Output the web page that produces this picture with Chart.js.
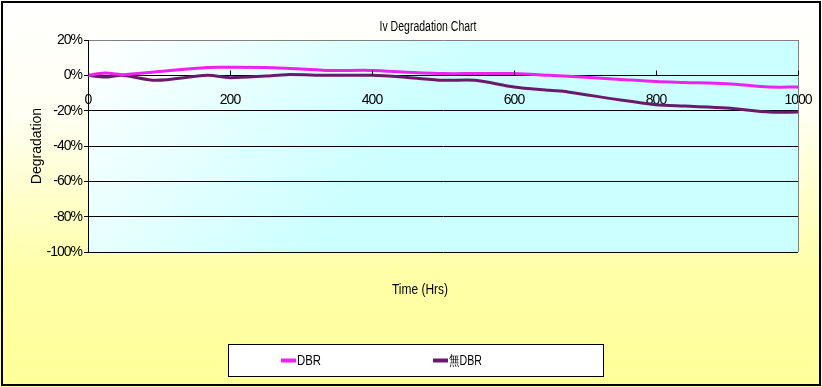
<!DOCTYPE html>
<html>
<head>
<meta charset="utf-8">
<title>Iv Degradation Chart</title>
<script src="https://cdn.jsdelivr.net/npm/chart.js"></script>
<style>
  body { margin: 0; padding: 0; background: #fff; }
  #wrap { width: 822px; height: 387px; }
</style>
</head>
<body>
<div id="wrap"><canvas id="chart" width="822" height="387"></canvas></div>
<script>
// test hours and degradation (%)
var hours = [0, 24, 48, 96, 168, 200, 250, 280, 336, 400, 450, 500, 545, 600, 650, 676, 750, 800, 840, 900, 960, 1000];
var dbr   = [0, 1.3, 0.4, 2, 4.5, 4.6, 4.5, 4, 2.8, 2.8, 1.8, 1, 1, 1, 0, -0.5, -2.3, -3.5, -4, -4.7, -6.6, -6.6];
var noDbr = [0, -1, 0, -2.8, 0, -1.3, -0.4, 0.4, 0, 0, -1.2, -2.8, -2.8, -6.6, -8.5, -9.4, -14, -16.6, -17.4, -18.5, -20.8, -20.8];
var seriesNames = ['DBR', '無DBR'];
var xTicks = [0, 200, 400, 600, 800, 1000];
var yTicks = [20, 0, -20, -40, -60, -80, -100];

var FONT = "'Liberation Sans', Arial, sans-serif";

function pts(ys) {
  return hours.map(function(h, i) { return { x: h, y: ys[i] }; });
}

// squeeze text to a given width (the original uses a condensed face)
function narrowText(ctx, text, x, y, w, align) {
  var m = ctx.measureText(text).width;
  var k = Math.min(1, w / m);
  ctx.save();
  ctx.translate(x, y);
  ctx.scale(k, 1);
  ctx.textAlign = align || 'center';
  ctx.fillText(text, 0, 0);
  ctx.restore();
}

// backgrounds, borders, titles and legend
var decor = {
  id: 'decor',
  beforeDraw: function(chart) {
    var ctx = chart.ctx, a = chart.chartArea;
    ctx.save();
    var g = ctx.createLinearGradient(0, 0, 0, chart.height);
    g.addColorStop(0, '#ffffff');
    g.addColorStop(0.3, '#fffff2');
    g.addColorStop(0.7, '#ffffa8');
    g.addColorStop(1, '#ffff99');
    ctx.fillStyle = g;
    ctx.fillRect(0, 0, chart.width, chart.height);

    var pg = ctx.createLinearGradient(a.left, a.top, a.left + 230, a.top + 200);
    pg.addColorStop(0, '#ffffff');
    pg.addColorStop(1, '#ccffff');
    ctx.fillStyle = pg;
    ctx.fillRect(a.left, a.top, a.right - a.left, a.bottom - a.top);
    ctx.restore();
    // tighter tick labels
    ctx.letterSpacing = '-1px';
  },
  afterDraw: function(chart) {
    var ctx = chart.ctx, a = chart.chartArea;
    var xs = chart.scales.x, ys = chart.scales.y;
    ctx.letterSpacing = '0px';
    ctx.save();
    // plot area right border
    ctx.strokeStyle = '#808080';
    ctx.lineWidth = 1;
    ctx.beginPath();
    ctx.moveTo(a.right + 0.5, a.top);
    ctx.lineTo(a.right + 0.5, a.bottom);
    ctx.stroke();

    // x tick marks pointing up from the 0% axis
    var y0 = Math.round(ys.getPixelForValue(0)) + 0.5;
    ctx.strokeStyle = '#000';
    xTicks.forEach(function(v) {
      var px = Math.round(xs.getPixelForValue(v)) + 0.5;
      ctx.beginPath();
      ctx.moveTo(px, y0);
      ctx.lineTo(px, y0 - 5);
      ctx.stroke();
    });

    ctx.fillStyle = '#000';
    ctx.textBaseline = 'middle';
    ctx.font = '14px ' + FONT;
    narrowText(ctx, 'Iv Degradation Chart', 428, 27, 97);
    narrowText(ctx, 'Time (Hrs)', 420, 290, 56);

    ctx.save();
    ctx.translate(37, (a.top + a.bottom) / 2);
    ctx.rotate(-Math.PI / 2);
    ctx.textAlign = 'center';
    ctx.fillText('Degradation', 0, 0);
    ctx.restore();

    // legend
    ctx.fillStyle = '#ffffff';
    ctx.fillRect(228.5, 344.5, 375, 32);
    ctx.strokeStyle = '#000';
    ctx.lineWidth = 1;
    ctx.strokeRect(228.5, 344.5, 375, 32);
    var lx = [281, 433];
    var lw = [24, 33];
    chart.data.datasets.forEach(function(ds, i) {
      ctx.strokeStyle = ds.borderColor;
      ctx.lineWidth = 4;
      ctx.beginPath();
      ctx.moveTo(lx[i], 360.5);
      ctx.lineTo(lx[i] + 15, 360.5);
      ctx.stroke();
      ctx.fillStyle = '#000';
      narrowText(ctx, ds.label, lx[i] + 16, 361, lw[i], 'left');
    });

    // outer frame
    ctx.strokeStyle = '#000';
    ctx.lineWidth = 2;
    ctx.strokeRect(2, 2, chart.width - 4, chart.height - 4);
    ctx.restore();
  }
};

var ctx = document.getElementById('chart').getContext('2d');
var chart = new Chart(ctx, {
  type: 'line',
  data: {
    datasets: [{
      label: seriesNames[0],
      data: pts(dbr),
      borderColor: '#ee22ee',
      borderWidth: 3,
      pointRadius: 0,
      tension: 0.3,
      fill: false
    }, {
      label: seriesNames[1],
      data: pts(noDbr),
      borderColor: '#6b1a6b',
      borderWidth: 3,
      pointRadius: 0,
      tension: 0.3,
      fill: false
    }]
  },
  options: {
    responsive: false,
    animation: false,
    devicePixelRatio: 1,
    layout: { padding: { left: 0, top: 40, right: 24, bottom: 135 } },
    plugins: {
      legend: { display: false },
      title: { display: false },
      tooltip: { enabled: false }
    },
    scales: {
      x: {
        type: 'linear',
        min: 0,
        max: 1000,
        position: { y: 0 },
        afterBuildTicks: function(s) { s.ticks = xTicks.map(function(v) { return { value: v }; }); },
        afterFit: function(s) { s.height = 0; s.paddingLeft = 0; s.paddingRight = 0; },
        ticks: {
          color: '#000',
          font: { family: FONT, size: 14 },
          padding: 16,
          maxRotation: 0,
          callback: function(v) { return String(v); }
        },
        grid: { display: true, drawOnChartArea: false, drawTicks: false },
        border: { display: true, color: '#000', width: 1 }
      },
      y: {
        min: -100,
        max: 20,
        afterBuildTicks: function(s) { s.ticks = yTicks.map(function(v) { return { value: v }; }); },
        afterFit: function(s) { s.width = 88; s.paddingTop = 0; s.paddingBottom = 0; },
        ticks: {
          color: '#000',
          font: { family: FONT, size: 14 },
          padding: 2,
          callback: function(v) { return v + '%'; }
        },
        grid: {
          color: function(c) { return c.tick && c.tick.value === 20 ? '#808080' : '#000'; },
          tickColor: '#000',
          tickLength: 4,
          lineWidth: 1
        },
        border: { color: '#000', width: 1 }
      }
    }
  },
  plugins: [decor]
});
</script>
</body>
</html>
